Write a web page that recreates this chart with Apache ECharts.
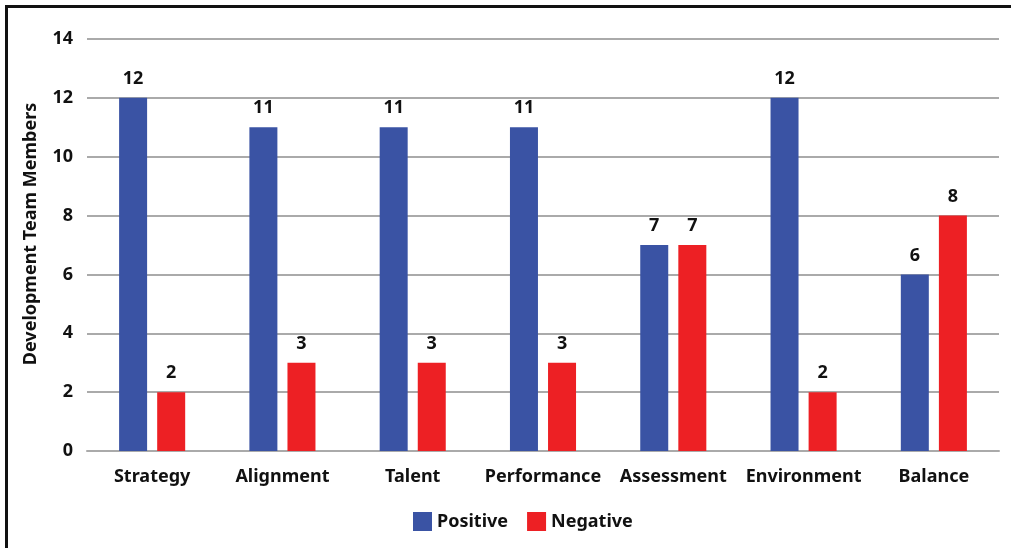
<!DOCTYPE html>
<html>
<head>
<meta charset="utf-8">
<script src="https://cdn.jsdelivr.net/npm/echarts@6/dist/echarts.min.js"></script>
<style>
  html, body { margin: 0; padding: 0; background: #fff; }
  #wrap { position: relative; width: 1011px; height: 548px; }
  #chart { width: 1011px; height: 548px; }
  #frame { position: absolute; left: 5px; top: 5px; right: 0; bottom: 0;
           border-top: 3px solid #111; border-left: 3px solid #111; pointer-events: none; }
</style>
</head>
<body>
<div id="wrap">
  <div id="chart"></div>
  <div id="frame"></div>
</div>
<script>
var categories = ['Strategy', 'Alignment', 'Talent', 'Performance', 'Assessment', 'Environment', 'Balance'];
var positive = [12, 11, 11, 11, 7, 12, 6];
var negative = [2, 3, 3, 3, 7, 2, 8];

var myChart = echarts.init(document.getElementById('chart'));

var font = 'Noto Sans';
var labelStyle = {
    show: true,
    position: 'top',
    distance: 10,
    color: '#111',
    fontFamily: font,
    fontWeight: 'bold',
    fontSize: 18
};

var option = {
    animation: false,
    grid: { left: 87, right: 12, top: 39, bottom: 97 },
    legend: {
        data: ['Positive', 'Negative'],
        left: 408,
        top: 507,
        itemWidth: 19,
        itemHeight: 19,
        itemGap: 19,
        icon: 'rect',
        textStyle: { color: '#111', fontFamily: font, fontWeight: 'bold', fontSize: 18, padding: [0, 0, 0, 0] }
    },
    xAxis: {
        type: 'category',
        data: categories,
        axisLine: { lineStyle: { color: '#aaaaaa', width: 2 } },
        axisTick: { show: false },
        axisLabel: { interval: 0, color: '#111', fontFamily: font, fontWeight: 'bold', fontSize: 18, margin: 17 }
    },
    yAxis: {
        type: 'value',
        min: 0,
        max: 14,
        interval: 2,
        name: 'Development Team Members',
        nameLocation: 'middle',
        nameGap: 47,
        nameTextStyle: { color: '#111', fontFamily: font, fontWeight: 'bold', fontSize: 18, padding: [0, 0, 0, 22] },
        axisLine: { show: false },
        axisTick: { show: false },
        axisLabel: { color: '#111', fontFamily: font, fontWeight: 'bold', fontSize: 18, margin: 14 },
        splitLine: { lineStyle: { color: '#aaaaaa', width: 2 } }
    },
    series: [{
        name: 'Positive',
        type: 'bar',
        data: positive,
        barWidth: 28,
        barGap: '36%',
        itemStyle: { color: '#3a53a4' },
        label: labelStyle
    }, {
        name: 'Negative',
        type: 'bar',
        data: negative,
        barWidth: 28,
        itemStyle: { color: '#ed2024' },
        label: labelStyle
    }]
};

myChart.setOption(option);
</script>
</body>
</html>
